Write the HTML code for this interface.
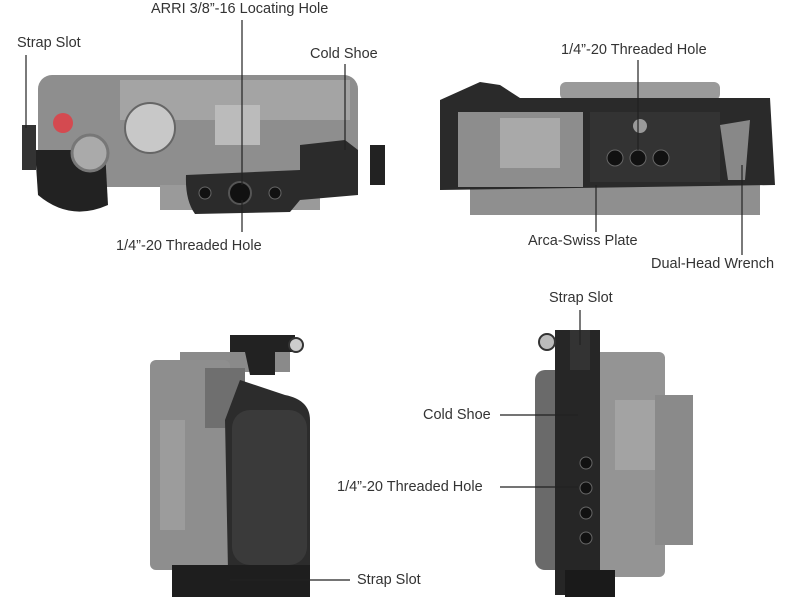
<!DOCTYPE html>
<html><head><meta charset="utf-8"><style>
html,body{margin:0;padding:0;background:#fff}
body{width:800px;height:600px;position:relative;overflow:hidden;font-family:"Liberation Sans","DejaVu Sans",sans-serif}
.t{position:absolute;font-size:14.5px;color:#333;white-space:nowrap}
</style></head><body>
<svg width="800" height="600" style="position:absolute;left:0;top:0">
<!-- top-left camera -->
<rect x="38" y="75" width="320" height="112" rx="14" fill="#8e8e8e"/>
<rect x="120" y="80" width="230" height="40" fill="#a4a4a4"/>
<rect x="160" y="185" width="160" height="25" fill="#9a9a9a"/>
<path d="M35 150 L105 150 L108 205 Q70 222 38 195 Z" fill="#222"/>
<rect x="22" y="125" width="14" height="45" fill="#333"/>
<circle cx="63" cy="123" r="10" fill="#d44a50"/>
<circle cx="90" cy="153" r="18" fill="#aaa" stroke="#777" stroke-width="3"/>
<circle cx="150" cy="128" r="25" fill="#c8c8c8" stroke="#666" stroke-width="2"/>
<rect x="215" y="105" width="45" height="40" fill="#bbb"/>
<path d="M186 175 L300 170 L300 145 L345 140 L358 150 L358 195 L300 200 L290 212 L195 214 Q185 200 186 175 Z" fill="#2b2b2b"/>
<circle cx="240" cy="193" r="11" fill="#111" stroke="#555" stroke-width="2"/>
<circle cx="205" cy="193" r="6" fill="#111" stroke="#666"/>
<circle cx="275" cy="193" r="6" fill="#111" stroke="#666"/>
<rect x="370" y="145" width="15" height="40" fill="#222"/>
<!-- top-right camera -->
<rect x="560" y="82" width="160" height="18" rx="6" fill="#9a9a9a"/>
<rect x="470" y="180" width="290" height="35" fill="#8f8f8f"/>
<path d="M440 100 L480 82 L500 85 L520 98 L770 98 L775 185 L440 190 Z" fill="#2a2a2a"/>
<rect x="458" y="112" width="125" height="75" fill="#8d8d8d"/>
<rect x="500" y="118" width="60" height="50" fill="#a9a9a9"/>
<rect x="590" y="112" width="130" height="70" fill="#333"/>
<circle cx="640" cy="126" r="7" fill="#999"/>
<circle cx="615" cy="158" r="8" fill="#111" stroke="#666"/>
<circle cx="638" cy="158" r="8" fill="#111" stroke="#666"/>
<circle cx="661" cy="158" r="8" fill="#111" stroke="#666"/>
<path d="M720 125 L750 120 L745 180 L728 180 Z" fill="#888"/>
<!-- bottom-left camera -->
<rect x="180" y="352" width="110" height="20" fill="#8a8a8a"/>
<rect x="150" y="360" width="80" height="210" rx="6" fill="#8e8e8e"/>
<rect x="160" y="420" width="25" height="110" fill="#9c9c9c"/>
<rect x="205" y="368" width="40" height="60" fill="#6f6f6f"/>
<path d="M230 335 L295 335 L295 352 L275 352 L275 375 L250 375 L245 352 L230 352 Z" fill="#222"/>
<circle cx="296" cy="345" r="7" fill="#ccc" stroke="#333" stroke-width="2"/>
<path d="M240 380 L285 395 Q310 400 310 420 L310 570 L228 570 L225 420 Z" fill="#2c2c2c"/>
<rect x="232" y="410" width="75" height="155" rx="18" fill="#3a3a3a"/>
<rect x="172" y="565" width="138" height="32" fill="#1e1e1e"/>
<!-- bottom-right camera -->
<rect x="535" y="370" width="30" height="200" rx="10" fill="#6a6a6a"/>
<rect x="560" y="352" width="105" height="225" rx="6" fill="#949494"/>
<rect x="655" y="395" width="38" height="150" fill="#8a8a8a"/>
<rect x="615" y="400" width="40" height="70" fill="#a3a3a3"/>
<rect x="555" y="330" width="45" height="265" fill="#262626"/>
<rect x="570" y="330" width="20" height="40" fill="#333"/>
<circle cx="547" cy="342" r="8" fill="#bbb" stroke="#333" stroke-width="2"/>
<circle cx="586" cy="463" r="6" fill="#111" stroke="#666"/>
<circle cx="586" cy="488" r="6" fill="#111" stroke="#666"/>
<circle cx="586" cy="513" r="6" fill="#111" stroke="#666"/>
<circle cx="586" cy="538" r="6" fill="#111" stroke="#666"/>
<rect x="565" y="570" width="50" height="27" fill="#1a1a1a"/>
<!-- leader lines -->
<g stroke="#222" stroke-width="1.2" fill="none">
<line x1="26" y1="55" x2="26" y2="128"/>
<line x1="242" y1="20" x2="242" y2="185"/>
<line x1="345" y1="64" x2="345" y2="150"/>
<line x1="242" y1="200" x2="242" y2="232"/>
<line x1="638" y1="60" x2="638" y2="150"/>
<line x1="596" y1="185" x2="596" y2="232"/>
<line x1="742" y1="165" x2="742" y2="255"/>
<line x1="580" y1="310" x2="580" y2="345"/>
<line x1="500" y1="415" x2="578" y2="415"/>
<line x1="500" y1="487" x2="578" y2="487"/>
<line x1="230" y1="580" x2="350" y2="580"/>
</g>
</svg>
<div class="t" style="left:17px;top:35px">Strap Slot</div>
<div class="t" style="left:151px;top:1px">ARRI 3/8”-16 Locating Hole</div>
<div class="t" style="left:310px;top:46px">Cold Shoe</div>
<div class="t" style="left:116px;top:238px">1/4”-20 Threaded Hole</div>
<div class="t" style="left:561px;top:42px">1/4”-20 Threaded Hole</div>
<div class="t" style="left:528px;top:233px">Arca-Swiss Plate</div>
<div class="t" style="left:651px;top:256px">Dual-Head Wrench</div>
<div class="t" style="left:549px;top:290px">Strap Slot</div>
<div class="t" style="left:423px;top:407px">Cold Shoe</div>
<div class="t" style="left:337px;top:479px">1/4”-20 Threaded Hole</div>
<div class="t" style="left:357px;top:572px">Strap Slot</div>
</body></html>
